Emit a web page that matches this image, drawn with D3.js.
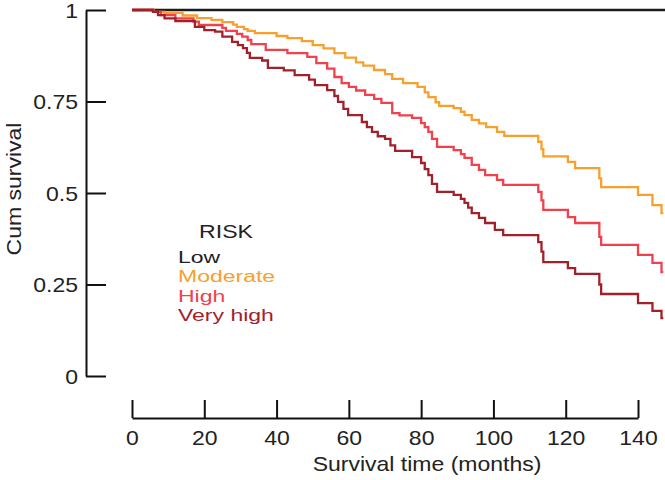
<!DOCTYPE html>
<html>
<head>
<meta charset="utf-8">
<script src="https://cdn.jsdelivr.net/npm/d3@7"></script>
<style>
  html, body { margin: 0; padding: 0; background: #fff; }
  svg { display: block; }
  text { font-family: "Liberation Sans", Arial, Helvetica, sans-serif; }
</style>
</head>
<body>
<svg id="chart" width="665" height="480"></svg>
<script>
// ---- data (time in months, cumulative survival from that time on) ----
const seriesNames = ["Low", "Moderate", "High", "Very high"];
const xTicks = [0, 20, 40, 60, 80, 100, 120, 140];
const yTicks = [0, 0.25, 0.5, 0.75, 1];

const low = [[0, 1], [147.5, 1]];

const moderate = [
  [0, 1], [6, 0.995], [9, 0.992], [14, 0.985], [18, 0.978], [22, 0.973], [25, 0.967],
  [28, 0.960], [29, 0.954], [31, 0.948], [32, 0.943], [34, 0.937], [40, 0.929], [43, 0.923],
  [47, 0.915], [50, 0.904], [53, 0.895], [56, 0.882], [59, 0.870], [62, 0.857], [64, 0.848],
  [67, 0.836], [70, 0.825], [72, 0.812], [75, 0.800], [79, 0.790], [81, 0.775], [82, 0.762],
  [84, 0.748], [85, 0.738], [89, 0.732], [91, 0.722], [92, 0.713], [94, 0.700], [96, 0.690],
  [98, 0.680], [101, 0.667], [103, 0.656], [112.4, 0.640], [113.3, 0.620], [113.8, 0.600],
  [120.6, 0.585], [122.6, 0.568], [129.3, 0.540], [129.8, 0.516], [140, 0.495], [144, 0.467],
  [146.5, 0.445], [147, 0.445]
];

const high = [
  [0, 1], [6, 0.995], [8, 0.986], [12, 0.977], [17, 0.968], [18.5, 0.959], [25, 0.951],
  [26, 0.943], [29, 0.935], [30.5, 0.927], [32, 0.918], [33, 0.907], [37, 0.891], [43, 0.882],
  [48.5, 0.872], [51, 0.855], [54, 0.840], [56, 0.817], [58, 0.800], [60, 0.790], [62, 0.780],
  [64.5, 0.768], [67, 0.757], [69, 0.746], [72, 0.718], [74, 0.712], [77.5, 0.705], [80, 0.691],
  [81, 0.680], [82, 0.667], [83, 0.648], [84.4, 0.626], [89, 0.617], [91, 0.606], [92, 0.596],
  [94, 0.577], [96, 0.563], [97.7, 0.549], [101, 0.536], [102.7, 0.522], [112.4, 0.503],
  [113.3, 0.480], [113.8, 0.454], [120.6, 0.434], [122.6, 0.418], [129.3, 0.380], [129.8, 0.358],
  [140, 0.331], [144, 0.309], [146.5, 0.284], [147, 0.284]
];

const veryHigh = [
  [0, 1], [5.8, 0.995], [7.2, 0.986], [9, 0.977], [12, 0.970], [17.4, 0.954], [20, 0.945],
  [23, 0.941], [25, 0.927], [27.7, 0.913], [29.3, 0.904], [30.7, 0.896], [31.8, 0.883],
  [32.6, 0.869], [36, 0.862], [37.6, 0.842], [42, 0.835], [45, 0.822], [49, 0.810], [50.6, 0.795],
  [54, 0.781], [56, 0.765], [57, 0.749], [58.5, 0.730], [59.8, 0.713], [63.6, 0.694], [65, 0.680],
  [66.4, 0.667], [68, 0.655], [70, 0.648], [71.5, 0.630], [72.8, 0.615], [77.5, 0.598], [80, 0.582],
  [81, 0.565], [82, 0.549], [83, 0.525], [84.4, 0.503], [89, 0.495], [91, 0.484], [92, 0.473],
  [93, 0.460], [94, 0.445], [96, 0.432], [97.7, 0.418], [100.4, 0.399], [102.7, 0.385],
  [112.4, 0.366], [113.3, 0.340], [113.8, 0.311], [120.6, 0.295], [122.6, 0.279], [129.3, 0.250],
  [129.8, 0.224], [140, 0.199], [144, 0.178], [146.5, 0.158], [147, 0.158]
];

const seriesData = [low, moderate, high, veryHigh];
const colors = ["#1c1c1c", "#f7a02e", "#f0414d", "#a3202a"];

// ---- drawing ----
const svg = d3.select("#chart");
const SX = 1.15;      // horizontal text stretch of the original
const FS = 20;

const x = d3.scaleLinear().domain([0, 140]).range([132, 638]);
const y = d3.scaleLinear().domain([0, 1]).range([376, 10]);

// Y axis
const yAxis = d3.axisLeft(y).tickValues(yTicks).tickFormat(d3.format(""))
  .tickSizeInner(-20).tickSizeOuter(0).tickPadding(8);
const gy = svg.append("g").attr("transform", "translate(86,0)").call(yAxis);
gy.select(".domain").attr("stroke", "#111").attr("stroke-width", 2);
gy.selectAll(".tick line").attr("stroke", "#111").attr("stroke-width", 2);
gy.selectAll(".tick text")
  .attr("x", null).attr("dy", "0.36em")
  .attr("transform", `translate(-8,0) scale(${SX},1)`)
  .attr("font-size", FS).attr("fill", "#222")
  .style("font-family", '"Liberation Sans", Arial, sans-serif');

// X axis
const xAxis = d3.axisBottom(x).tickValues(xTicks)
  .tickSizeInner(-18).tickSizeOuter(0).tickPadding(13);
const gx = svg.append("g").attr("transform", "translate(0,418)").call(xAxis);
gx.select(".domain").attr("stroke", "#111").attr("stroke-width", 2);
gx.selectAll(".tick line").attr("stroke", "#111").attr("stroke-width", 2);
gx.selectAll(".tick text")
  .attr("y", null).attr("dy", null)
  .attr("transform", `translate(0,27) scale(${SX},1)`)
  .attr("font-size", FS).attr("fill", "#222")
  .style("font-family", '"Liberation Sans", Arial, sans-serif');

// Curves
const line = d3.line().x(d => x(d[0])).y(d => y(d[1])).curve(d3.curveStepAfter);
svg.append("g").selectAll("path")
  .data(seriesData)
  .join("path")
  .attr("d", d => line(d))
  .attr("fill", "none")
  .attr("stroke", (d, i) => colors[i])
  .attr("stroke-width", (d, i) => i === 0 ? 2.5 : 2.3)
  .attr("stroke-linejoin", "miter");

// helper for stretched text
function label(str, px, py, opts = {}) {
  const rot = opts.rotate ? ` rotate(${opts.rotate})` : "";
  const sx = opts.sx || SX;
  return svg.append("text")
    .attr("transform", `translate(${px},${py})${rot} scale(${sx},1)`)
    .attr("text-anchor", opts.anchor || "start")
    .attr("font-size", opts.size || FS)
    .attr("fill", opts.fill || "#222")
    .text(str);
}

// Axis titles
label("Survival time (months)", 427, 471, { anchor: "middle" });
label("Cum survival", 21, 189, { anchor: "middle", rotate: -90 });

// Legend
label("RISK", 226, 238, { anchor: "middle", size: 18.5, sx: 1.25 });
seriesNames.forEach((n, i) => {
  label(n, 178, 262.5 + i * 19.5, { fill: i === 0 ? "#222" : colors[i], size: 17.3, sx: 1.33 });
});
</script>
</body>
</html>
